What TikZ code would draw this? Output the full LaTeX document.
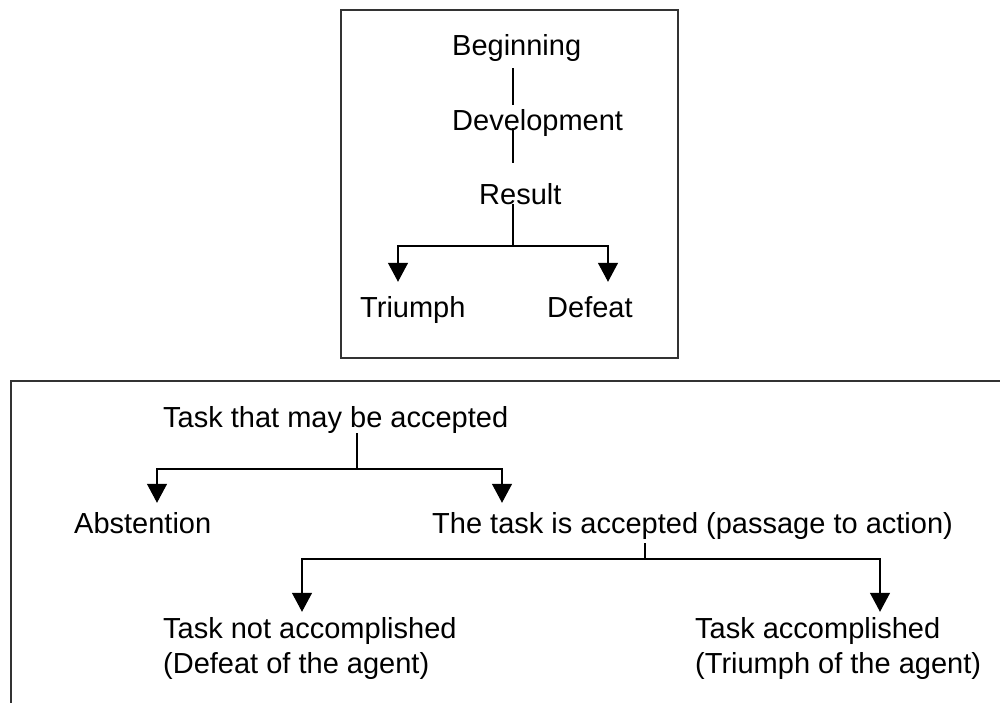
\documentclass[tikz,border=0pt]{standalone}
\usepackage{fontspec}
\setmainfont{Liberation Sans}
\usetikzlibrary{arrows.meta}
\begin{document}
\begin{tikzpicture}[x=1pt,y=-1pt,
  lbl/.style={inner sep=0pt, anchor=base west, font=\fontsize{29}{35}\selectfont},
  conn/.style={line width=1.3pt},
  arr/.style={conn, -{Triangle[width=20pt,length=19pt]}},
  frame/.style={line width=1.5pt, draw=black!80}]
\useasboundingbox (0,0) rectangle (1000,702);
% frames
\draw[frame] (341,10) rectangle (678,358);
\draw[frame] (1005,381) -- (11,381) -- (11,706);
% top diagram
\node[lbl] (beg) at (452,55) {Beginning};
\node[lbl] (dev) at (452,130) {Development};
\node[lbl] (res) at (479,204) {Result};
\node[lbl] (tri) at (360,317) {Triumph};
\node[lbl] (def) at (547,317) {Defeat};
\coordinate (sx) at (513,0);
\coordinate (r1) at (513,246);
\coordinate (tl) at (398,0);
\coordinate (tr) at (608,0);
\draw[conn] ([yshift=-7pt]beg.south -| sx) -- ([yshift=4pt]dev.north -| sx);
\draw[conn] ([yshift=8pt]dev.south -| sx) -- ([yshift=20pt]res.north -| sx);
\draw[conn] (res.base -| sx) -- (r1);
\draw[arr] (r1) -| ([yshift=14pt]tri.north -| tl);
\draw[arr] (r1) -| ([yshift=14pt]def.north -| tr);
% bottom diagram
\node[lbl] (task) at (163,427) {Task that may be accepted};
\node[lbl] (abs) at (74,533) {Abstention};
\node[lbl] (acc) at (432,533) {The task is accepted (passage to action)};
\node[lbl, align=left] (nacc) at (163,673) {Task not accomplished\\(Defeat of the agent)};
\node[lbl, align=left] (yacc) at (695,673) {Task accomplished\\(Triumph of the agent)};
\coordinate (r2) at (357,469);
\coordinate (bl) at (157,0);
\coordinate (br) at (502,0);
\draw[conn] (task.south -| r2) -- (r2);
\draw[arr] (r2) -| ([yshift=9pt]abs.north -| bl);
\draw[arr] (r2) -| ([yshift=9pt]acc.north -| br);
\coordinate (r3) at (645,559);
\coordinate (cl) at (302,0);
\coordinate (cr) at (880,0);
\draw[conn] ([yshift=-4pt]acc.south -| r3) -- (r3);
\draw[arr] (r3) -| ([yshift=5pt]nacc.north -| cl);
\draw[arr] (r3) -| ([yshift=5pt]yacc.north -| cr);
\end{tikzpicture}
\end{document}
